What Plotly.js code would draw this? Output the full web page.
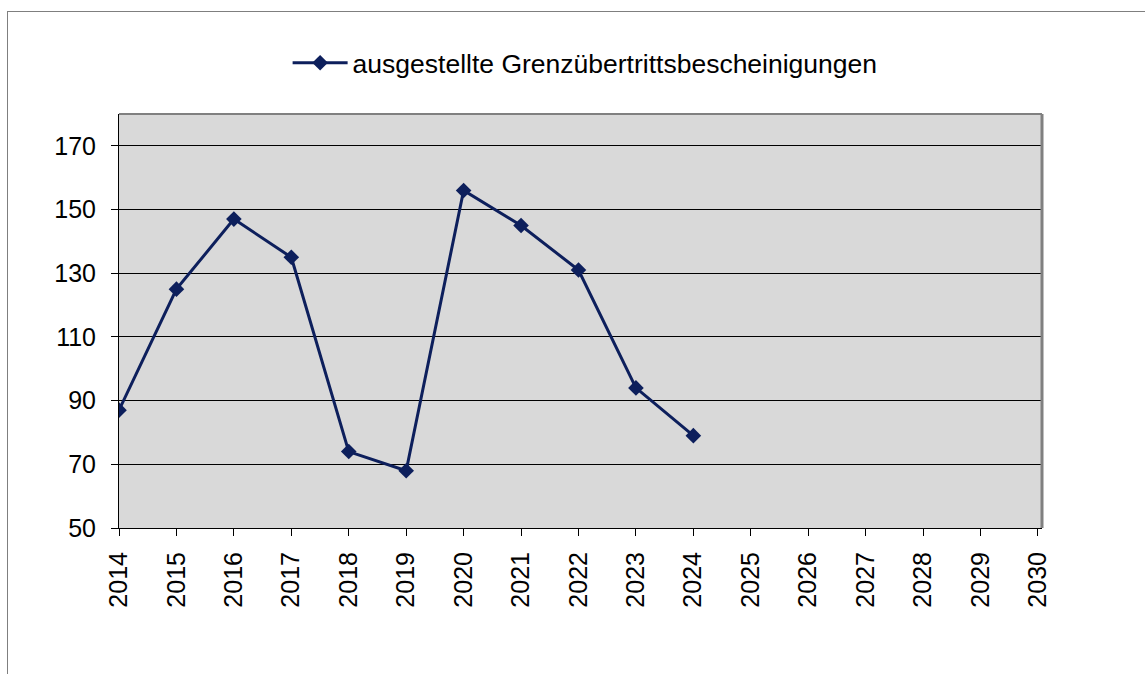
<!DOCTYPE html>
<html>
<head>
<meta charset="utf-8">
<script src="https://cdn.plot.ly/plotly-3.0.1.min.js"></script>
<style>
html,body{margin:0;padding:0;background:#fff;overflow:hidden;}
#frame{position:absolute;left:7px;top:11px;width:1200px;height:700px;border:1px solid #7f7f7f;box-sizing:border-box;pointer-events:none;z-index:5;}
#chart{position:absolute;left:0;top:0;width:1145px;height:674px;}
</style>
</head>
<body>
<div id="chart"></div>
<div id="frame"></div>
<script>
var years = [2014, 2015, 2016, 2017, 2018, 2019, 2020, 2021, 2022, 2023, 2024];
var values = [87, 125, 147, 135, 74, 68, 156, 145, 131, 94, 79];
var xTicks = [2014,2015,2016,2017,2018,2019,2020,2021,2022,2023,2024,2025,2026,2027,2028,2029,2030];
var yTicks = [50, 70, 90, 110, 130, 150, 170];
var seriesName = 'ausgestellte Grenzübertrittsbescheinigungen';

var trace = {
  x: years, y: values, type: 'scatter', mode: 'lines+markers', name: seriesName,
  line: {color: '#0d1f5c', width: 3},
  marker: {symbol: 'diamond', size: 12, color: '#0d1f5c'}
};

var layout = {
  width: 1145, height: 674,
  margin: {l: 119, r: 103, t: 114, b: 146, pad: 0},
  paper_bgcolor: '#ffffff', plot_bgcolor: '#d9d9d9',
  font: {family: 'Liberation Sans, Arial, sans-serif', size: 25, color: '#000'},
  showlegend: true,
  legend: {orientation: 'h', x: 0.505, xanchor: 'center', y: 1.123, yanchor: 'middle',
           itemwidth: 55, font: {size: 26.5}, bgcolor: 'rgba(0,0,0,0)'},
  xaxis: {range: [2014, 2030.07], tickvals: xTicks, ticktext: xTicks.map(String), tickangle: -90,
          showgrid: false, zeroline: false, showline: true, linecolor: '#000', linewidth: 1,
          ticks: 'outside', ticklen: 7, tickcolor: '#000', tickfont: {size: 25}, ticklabelstandoff: 6},
  yaxis: {range: [50, 180], tickvals: yTicks, showgrid: true, gridcolor: '#000', gridwidth: 1,
          zeroline: false, showline: true, linecolor: '#000', linewidth: 1,
          ticks: 'outside', ticklen: 7, tickcolor: '#000', tickfont: {size: 25}, ticklabelstandoff: 10},
  shapes: [
    {type: 'line', xref: 'paper', yref: 'paper', x0: 0, x1: 1, y0: 1, y1: 1, line: {color: '#808080', width: 2}},
    {type: 'line', xref: 'paper', yref: 'paper', x0: 1, x1: 1, y0: 0, y1: 1, line: {color: '#808080', width: 3}}
  ]
};

Plotly.newPlot('chart', [trace], layout, {displayModeBar: false, staticPlot: true});
</script>
</body>
</html>
